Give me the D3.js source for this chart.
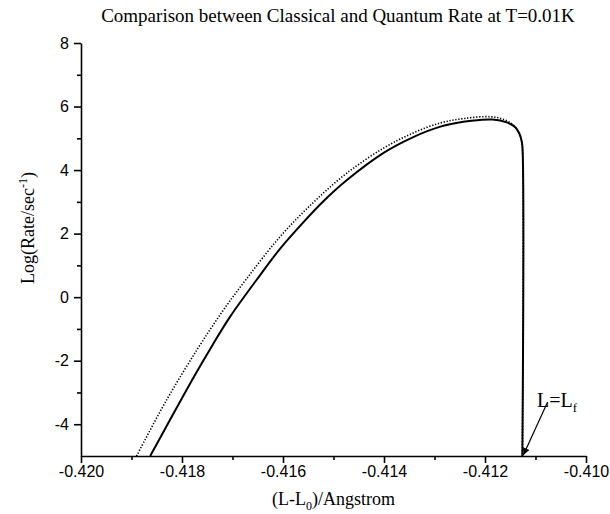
<!DOCTYPE html>
<html>
<head>
<meta charset="utf-8">
<script src="https://cdn.jsdelivr.net/npm/d3@7"></script>
<style>
  body { margin: 0; background: #fff; }
  svg { display: block; }
</style>
</head>
<body>
<div id="grafico"></div>
<script>
// ----- DATOS

// Curva continua (cuantica)
var quantumX = [-0.41863, -0.41825, -0.41778, -0.41740, -0.41705, -0.41646, -0.41606, -0.41563, -0.41520,
    -0.41474, -0.41400, -0.41342, -0.41290, -0.41243, -0.41210, -0.41185, -0.41157, -0.41140,
    -0.41132, -0.41128, -0.41126, -0.41126];
var quantumY = [-5, -3.90, -2.55, -1.52, -0.62, 0.68, 1.52, 2.30, 3.02,
    3.68, 4.55, 5.04, 5.36, 5.52, 5.58, 5.59, 5.50, 5.35,
    5.15, 4.95, 4.75, -5];

// Curva punteada (clasica)
var classicalX = [-0.41890, -0.41831, -0.41770, -0.41720, -0.41672, -0.41606, -0.41540, -0.41474,
    -0.41400, -0.41342, -0.41289, -0.41243, -0.41190, -0.41164, -0.41144, -0.41134,
    -0.41128, -0.41126, -0.41126];
var classicalY = [-5, -3.25, -1.65, -0.45, 0.58, 1.90, 2.98, 3.90,
    4.70, 5.17, 5.48, 5.62, 5.68, 5.60, 5.42, 5.20,
    4.95, 4.75, -5];

// Ejes
var xTicks = [-0.420, -0.418, -0.416, -0.414, -0.412, -0.410];
var xMinorTicks = [-0.419, -0.417, -0.415, -0.413, -0.411];
var yTicks = [8, 6, 4, 2, 0, -2, -4];
var yMinorTicks = [7, 5, 3, 1, -1, -3];

// Anotacion L=Lf
var lFinal = -0.41126;
var arrowStart = [-0.41076, -3.3];
var labelPos = [-0.41097, -3.46];

// ----- DIBUJO

var width = 610;
var height = 514;
var x0 = 81, x1 = 586; // borde del area de dibujo
var y0 = 43, y1 = 456;

var svg = d3.select("#grafico")
    .append("svg")
    .attr("width", width)
    .attr("height", height);

svg.append("rect")
    .attr("width", width)
    .attr("height", height)
    .attr("fill", "white");

var x = d3.scaleLinear().domain([-0.420, -0.410]).range([x0, x1]);
var y = d3.scaleLinear().domain([-5, 8]).range([y1, y0]);

var fontEjes = "'Liberation Sans', Arial, sans-serif";
var fontTitulo = "'Liberation Serif', 'Times New Roman', serif";

// eje x
var gx = svg.append("g")
    .attr("transform", "translate(0," + y1 + ")")
    .call(d3.axisBottom(x).tickValues(xTicks).tickSize(7).tickSizeOuter(0).tickFormat(d3.format(".3f")));
svg.append("g")
    .attr("transform", "translate(0," + y1 + ")")
    .call(d3.axisBottom(x).tickValues(xMinorTicks).tickSize(4).tickSizeOuter(0).tickFormat(""))
    .select(".domain").remove();

// eje y
var gy = svg.append("g")
    .attr("transform", "translate(" + x0 + ",0)")
    .call(d3.axisLeft(y).tickValues(yTicks).tickSize(7).tickSizeOuter(0).tickFormat(d3.format("d")));
svg.append("g")
    .attr("transform", "translate(" + x0 + ",0)")
    .call(d3.axisLeft(y).tickValues(yMinorTicks).tickSize(4).tickSizeOuter(0).tickFormat(""))
    .select(".domain").remove();

svg.selectAll(".domain, .tick line")
    .attr("stroke", "black")
    .attr("stroke-width", 1.6);

svg.selectAll(".tick text")
    .attr("font-family", fontEjes)
    .attr("font-size", "16px")
    .attr("fill", "black");
gy.selectAll(".tick text").attr("x", -12).text(function (d) { return d < 0 ? "-" + Math.abs(d) : d; });
gx.selectAll(".tick text").text(function (d) { return d3.format(".3f")(d).replace("\u2212", "-"); });

// curvas
var linea = d3.line()
    .x(function (d) { return x(d[0]); })
    .y(function (d) { return y(d[1]); })
    .curve(d3.curveCatmullRom.alpha(0.5));

var clasica = d3.zip(classicalX, classicalY);
var cuantica = d3.zip(quantumX, quantumY);

svg.append("path")
    .datum(clasica)
    .attr("d", linea)
    .attr("fill", "none")
    .attr("stroke", "black")
    .attr("stroke-width", 1.6)
    .attr("stroke-dasharray", "1.3,1.7");

svg.append("path")
    .datum(cuantica)
    .attr("d", linea)
    .attr("fill", "none")
    .attr("stroke", "black")
    .attr("stroke-width", 2);

// flecha
svg.append("defs").append("marker")
    .attr("id", "punta")
    .attr("viewBox", "0 0 10 10")
    .attr("refX", 10)
    .attr("refY", 5)
    .attr("markerWidth", 9)
    .attr("markerHeight", 7)
    .attr("markerUnits", "userSpaceOnUse")
    .attr("orient", "auto")
    .append("path")
    .attr("d", "M0,0 L10,5 L0,10 Z")
    .attr("fill", "black");

svg.append("line")
    .attr("x1", x(arrowStart[0]))
    .attr("y1", y(arrowStart[1]))
    .attr("x2", x(lFinal) + 1)
    .attr("y2", y(-5) - 1)
    .attr("stroke", "black")
    .attr("stroke-width", 1.2)
    .attr("marker-end", "url(#punta)");

var etiqueta = svg.append("text")
    .attr("x", x(labelPos[0]))
    .attr("y", y(labelPos[1]))
    .attr("font-family", fontTitulo)
    .attr("font-size", "20px")
    .attr("fill", "black");
etiqueta.append("tspan").text("L=L");
etiqueta.append("tspan").attr("font-size", "13px").attr("dy", 5).text("f");

// titulos
svg.append("text")
    .attr("x", 338)
    .attr("y", 22)
    .attr("text-anchor", "middle")
    .attr("font-family", fontTitulo)
    .attr("font-size", "19px")
    .attr("fill", "black")
    .text("Comparison between Classical and Quantum Rate at T=0.01K");

var tituloX = svg.append("text")
    .attr("x", (x0 + x1) / 2)
    .attr("y", 505)
    .attr("text-anchor", "middle")
    .attr("font-family", fontTitulo)
    .attr("font-size", "18px")
    .attr("fill", "black");
tituloX.append("tspan").text("(L-L");
tituloX.append("tspan").attr("font-size", "12px").attr("dy", 5).text("0");
tituloX.append("tspan").attr("dy", -5).text(")/Angstrom");

var tituloY = svg.append("text")
    .attr("transform", "translate(34,228) rotate(-90)")
    .attr("text-anchor", "middle")
    .attr("font-family", fontTitulo)
    .attr("font-size", "18px")
    .attr("fill", "black");
tituloY.append("tspan").text("Log(Rate/sec");
tituloY.append("tspan").attr("font-size", "12px").attr("dy", -7).text("-1");
tituloY.append("tspan").attr("dy", 7).text(")");
</script>
</body>
</html>
